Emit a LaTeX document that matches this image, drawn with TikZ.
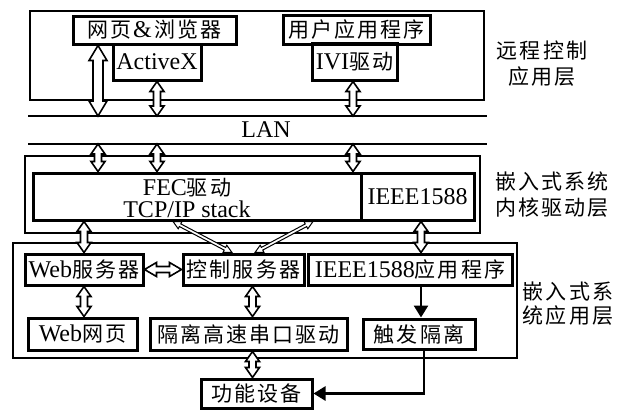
\documentclass[tikz,border=0pt]{standalone}
\usepackage{fontspec}
\setmainfont{Liberation Serif}
\newfontfamily\cjk[LetterSpace=10]{Noto Sans CJK SC}
\usetikzlibrary{calc,arrows.meta}
\newcommand\zh[1]{{\cjk\fontsize{21}{25}\selectfont #1}}
% hollow double-headed arrow: [style]{start}{end}{half shaft}{half head}{head length}
\newcommand\dblarrow[6][]{%
  \path (#2) coordinate (ha-s) (#3) coordinate (ha-e);
  \path ($(ha-s)!#6!(ha-e)$) coordinate (ha-a) ($(ha-e)!#6!(ha-s)$) coordinate (ha-b);
  \filldraw[harrow,#1] (ha-s) -- ($(ha-a)!#5!90:(ha-e)$) -- ($(ha-a)!#4!90:(ha-e)$)
    -- ($(ha-b)!#4!-90:(ha-s)$) -- ($(ha-b)!#5!-90:(ha-s)$) -- (ha-e)
    -- ($(ha-b)!#5!90:(ha-s)$) -- ($(ha-b)!#4!90:(ha-s)$)
    -- ($(ha-a)!#4!-90:(ha-e)$) -- ($(ha-a)!#5!-90:(ha-e)$) -- cycle;
}
\begin{document}
\begin{tikzpicture}[x=1pt,y=-1pt,
  every node/.style={inner sep=0pt, font=\fontsize{24}{25}\selectfont},
  box/.style={draw, line width=3pt},
  layer/.style={draw, line width=2.5pt},
  lanline/.style={line width=2.5pt},
  harrow/.style={draw, fill=white, line width=1.6pt, line join=miter},
  thinarrow/.style={line width=1pt},
  solidarrow/.style={line width=2.6pt, -{Triangle[length=12pt,width=14pt]}},
  lbl/.style={align=center, font=\fontsize{21}{26}\selectfont}
]
\fill[white] (0,0) rectangle (627,410);
\useasboundingbox (0,0) rectangle (627,410);

% column coordinates
\coordinate (cA) at (98,0);
\coordinate (cB) at (157,0);
\coordinate (cC) at (353,0);
\coordinate (cE) at (421,0);
\coordinate (cF) at (252.5,0);
\coordinate (cG) at (173,0);
\coordinate (cH) at (232,0);
\coordinate (cI) at (313,0);
\coordinate (cJ) at (255,0);
\coordinate (cK) at (424,0);

% remote control application layer
\node[layer, minimum width=454, minimum height=89] (L1) at (257,55.5) {};
\node[box, minimum width=163, minimum height=28] (web) at (154.5,30) {\zh{网页}\hspace{2pt}\&\hspace{3pt}\zh{浏览器}};
\node[box, minimum width=88, minimum height=36] (activex) at (157,62) {ActiveX};
\node[box, minimum width=147, minimum height=29] (user) at (356.5,29.5) {\zh{用户应用程序}};
\node[box, minimum width=85, minimum height=37] (ivi) at (354.5,61.5) {IVI\zh{驱动}};

% LAN
\coordinate (lanTL) at (28,116);
\coordinate (lanTR) at (487,116);
\coordinate (lanBL) at (28,144);
\coordinate (lanBR) at (487,144);
\draw[lanline] (lanTL) -- (lanTR);
\draw[lanline] (lanBL) -- (lanBR);
\node (lan) at (266,130) {LAN};

% kernel driver layer
\node[layer, minimum width=455, minimum height=77] (kernel) at (252.5,194.5) {};
\node[box, minimum width=328, minimum height=47] (fecL) at (197,196.5) {};
\node[box, minimum width=113, minimum height=47] (ieee) at (417.5,196.5) {IEEE1588};
\node[align=center, font=\fontsize{24}{22}\selectfont] (fectext) at (187,198) {FEC\zh{驱动}\\TCP/IP stack};

% embedded application layer
\node[layer, minimum width=504, minimum height=115] (app) at (265,300.5) {};
\node[box, minimum width=118, minimum height=31] (websrv) at (84,269.5) {Web\zh{服务器}};
\node[box, minimum width=121, minimum height=31] (ctrl) at (243.5,269.5) {\zh{控制服务器}};
\node[box, minimum width=204, minimum height=31] (ieeeapp) at (410,269.5) {IEEE1588\zh{应用程序}};
\node[box, minimum width=109, minimum height=32] (webpage) at (82.5,334) {Web\zh{网页}};
\node[box, minimum width=197, minimum height=32] (serial) at (248.5,334) {\zh{隔离高速串口驱动}};
\node[box, minimum width=112, minimum height=30] (trigger) at (419,334) {\zh{触发隔离}};
\node[box, minimum width=111, minimum height=29] (func) at (256.5,393.5) {\zh{功能设备}};

% layer labels
\node[lbl] (lab1) at (542,63.5) {\zh{远程控制}\\\zh{应用层}};
\node[lbl] (lab2) at (552,194.5) {\zh{嵌入式系统}\\\zh{内核驱动层}};
\node[lbl, font=\fontsize{21}{24}\selectfont] (lab3) at (568,303.5) {\zh{嵌入式系}\\\zh{统应用层}};

% hollow double arrows
\dblarrow{web.south -| cA}{lanTL -| cA}{5pt}{9pt}{15pt}
\dblarrow{activex.south -| cB}{lanTL -| cB}{3.5pt}{7pt}{10pt}
\dblarrow{ivi.south -| cC}{lanTL -| cC}{3.5pt}{7pt}{10pt}
\dblarrow{lanBL -| cA}{fecL.north -| cA}{3.5pt}{7pt}{10pt}
\dblarrow{lanBL -| cB}{fecL.north -| cB}{3.5pt}{7pt}{10pt}
\dblarrow{lanBL -| cC}{fecL.north -| cC}{3.5pt}{7pt}{10pt}
\dblarrow{fecL.south -| websrv.north}{websrv.north}{3.5pt}{7pt}{10pt}
\dblarrow{ieee.south -| cE}{ieeeapp.north -| cE}{3.5pt}{7pt}{10pt}
\dblarrow[thinarrow]{fecL.south -| cG}{ctrl.north -| cH}{1.5pt}{4pt}{8pt}
\dblarrow[thinarrow]{fecL.south -| cI}{ctrl.north -| cJ}{1.5pt}{4pt}{8pt}
\dblarrow{websrv.east}{ctrl.west}{3pt}{7pt}{12pt}
\dblarrow{websrv.south}{webpage.north -| websrv.south}{3.5pt}{7pt}{10pt}
\dblarrow{ctrl.south -| cF}{serial.north -| cF}{3.5pt}{7pt}{10pt}
\dblarrow{serial.south -| cF}{func.north -| cF}{3.5pt}{7pt}{10pt}

% solid arrows
\draw[solidarrow] (ieeeapp.south -| cE) -- (trigger.north -| cE);
\draw[solidarrow] (trigger.south -| cK) |- (func.east);
\end{tikzpicture}
\end{document}
